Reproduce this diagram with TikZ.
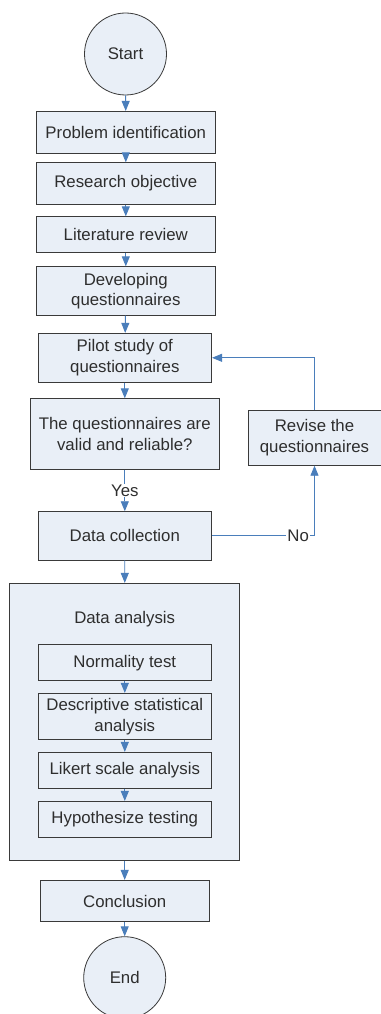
\documentclass[tikz,border=0pt]{standalone}
\usepackage{fontspec}
\setmainfont{Liberation Sans}
\usetikzlibrary{arrows.meta}
\definecolor{boxfill}{HTML}{E9EFF7}
\definecolor{boxdraw}{HTML}{3A3A3A}
\definecolor{arrowblue}{HTML}{4A7EBB}
\begin{document}
\begin{tikzpicture}[x=1pt,y=-1pt,
  every node/.style={font=\fontsize{16.8pt}{20.3pt}\selectfont, text=boxdraw!80!black},
  stepbox/.style={draw=boxdraw, fill=boxfill, line width=0.8pt, inner sep=0pt, align=center, rectangle},
  termbox/.style={draw=boxdraw, fill=boxfill, line width=0.8pt, inner sep=0pt, circle, minimum size=82pt},
  conn/.style={draw=arrowblue, line width=0.9pt, -{Triangle[length=10pt,width=8pt]}},
  lbl/.style={fill=white, inner sep=1pt}
]
\fill[white] (0,0) rectangle (380,1014);
\useasboundingbox (0,0) rectangle (380,1014);

\node[termbox] (start) at (125.5,54) {Start};
\node[stepbox, minimum width=179pt, minimum height=41.7pt] (prob) at (125.8,132.2) {Problem identification};
\node[stepbox, minimum width=179pt, minimum height=41.6pt] (res) at (125.8,183.5) {Research objective};
\node[stepbox, minimum width=179pt, minimum height=36pt] (lit) at (125.8,234.7) {Literature review};
\node[stepbox, minimum width=179pt, minimum height=48.6pt] (dev) at (125.8,291) {Developing\\questionnaires};
\node[stepbox, minimum width=173.7pt, minimum height=49pt] (pilot) at (124.8,357.8) {Pilot study of\\questionnaires};
\node[stepbox, minimum width=189pt, minimum height=70.6pt] (valid) at (124.8,434) {The questionnaires are\\valid and reliable?};
\node[stepbox, minimum width=173.7pt, minimum height=48.3pt] (coll) at (124.8,535.8) {Data collection};
\node[stepbox, minimum width=133pt, minimum height=55pt] (rev) at (314.5,437.8) {Revise the\\questionnaires};

\node[stepbox, minimum width=230pt, minimum height=277pt] (anal) at (124.7,721.8) {};
\node (analt) at (124.7,619.3) {Data analysis};
\node[stepbox, minimum width=173.7pt, minimum height=36pt] (norm) at (124.8,662.7) {Normality test};
\node[stepbox, minimum width=173.7pt, minimum height=46.4pt] (desc) at (124.8,716.5) {Descriptive statistical\\analysis};
\node[stepbox, minimum width=173.7pt, minimum height=36pt] (lik) at (124.8,770.3) {Likert scale analysis};
\node[stepbox, minimum width=173.7pt, minimum height=35.7pt] (hyp) at (124.8,819.2) {Hypothesize testing};

\node[stepbox, minimum width=168.7pt, minimum height=41.4pt] (conc) at (124.7,901) {Conclusion};
\node[termbox] (end) at (124.7,977.7) {End};

\draw[conn] (start) -- (prob);
\draw[conn] (prob) -- (res);
\draw[conn] (res) -- (lit);
\draw[conn] (lit) -- (dev);
\draw[conn] (dev) -- (pilot);
\draw[conn] (pilot) -- (valid);
\draw[conn] (valid) -- node[lbl] {Yes} (coll);
\draw[conn] (coll.east) -| node[lbl, pos=0.42] {No} (rev.south);
\draw[conn] (rev.north) |- (pilot.east);
\draw[conn] (coll) -- (anal);
\draw[conn] (norm) -- (desc);
\draw[conn] (desc) -- (lik);
\draw[conn] (lik) -- (hyp);
\draw[conn] (anal) -- (conc);
\draw[conn] (conc) -- (end);
\end{tikzpicture}
\end{document}
